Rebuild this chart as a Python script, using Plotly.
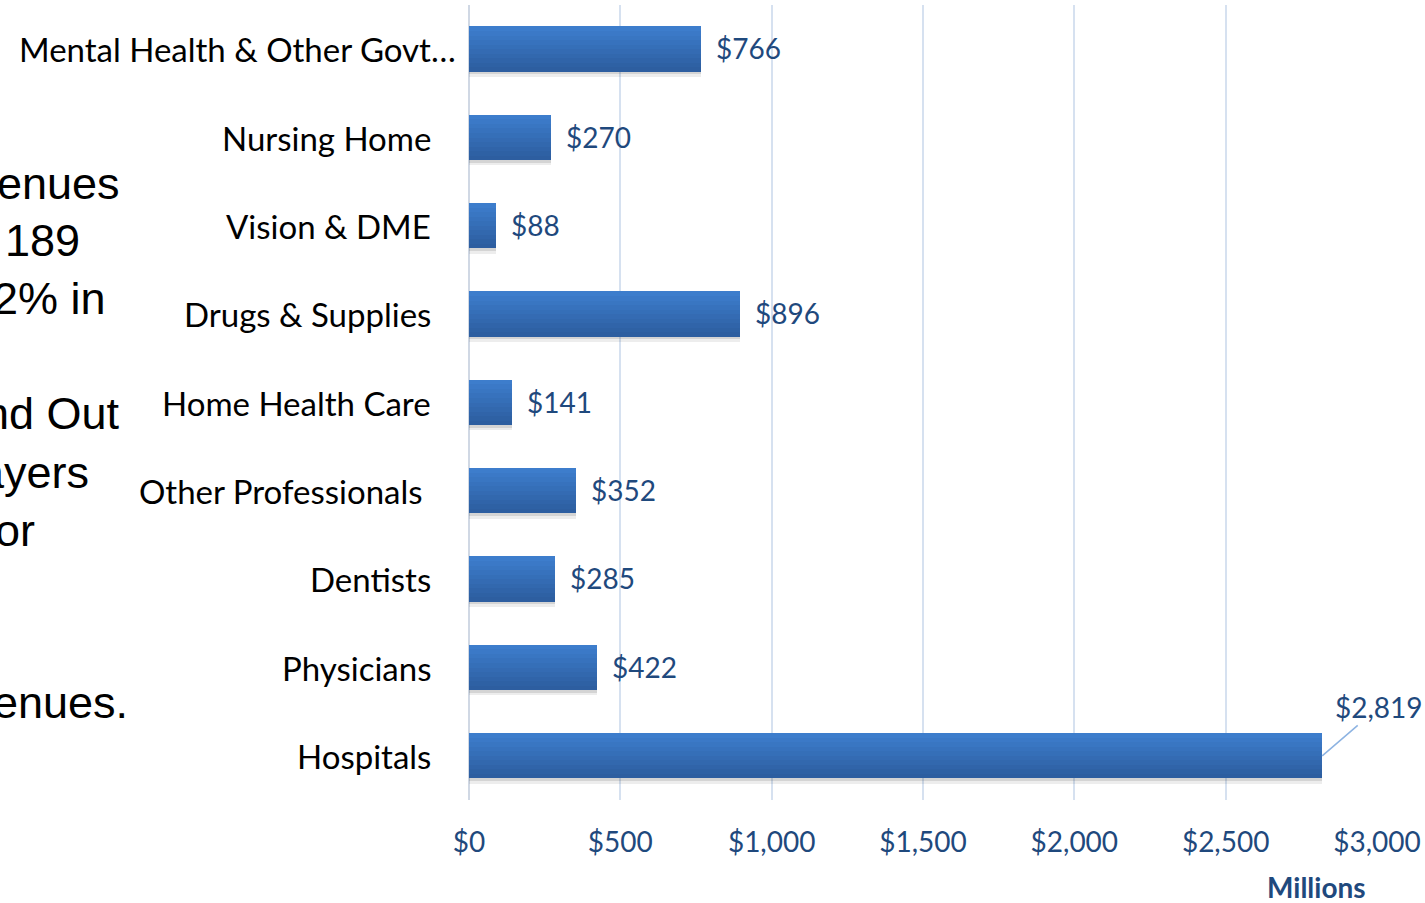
import plotly.graph_objects as go
import numpy as np

# Spending by category, millions of dollars (bottom to top)
categories = ["Hospitals", "Physicians", "Dentists", "Other Professionals",
              "Home Health Care", "Drugs & Supplies", "Vision & DME",
              "Nursing Home", "Mental Health & Other Govt…"]
values = [2819, 422, 285, 352, 141, 896, 88, 270, 766]
value_labels = ["$2,819", "$422", "$285", "$352", "$141", "$896", "$88", "$270", "$766"]
x_ticks = [0, 500, 1000, 1500, 2000, 2500, 3000]

# Slide text fragments visible to the left of the chart
side_lines = ["enues", "189", "2% in", "nd Out", "ayers", "or", "enues."]

W, H = 1425, 903
L, R, T, B = 469, 48, 5, 103
plot_w = W - L - R

bar_w = 0.51
n_bands = 10
top_rgb = np.array([61, 125, 204])
bot_rgb = np.array([45, 94, 160])

fig = go.Figure()

# soft shadow under each bar
for k, a in enumerate([0.10, 0.07]):
    fig.add_trace(go.Bar(
        x=values, y=categories, orientation="h",
        width=bar_w, offset=-bar_w / 2 - 0.03 - 0.03 * k,
        marker=dict(color=f"rgba(0,0,0,{a})", line=dict(width=0)),
        hoverinfo="skip", showlegend=False,
    ))

# vertical gradient built from thin stacked bands
for i in range(n_bands):
    t = i / (n_bands - 1)
    c = bot_rgb + (top_rgb - bot_rgb) * t
    fig.add_trace(go.Bar(
        x=values, y=categories, orientation="h",
        width=bar_w / n_bands + 0.002,
        offset=-bar_w / 2 + i * bar_w / n_bands,
        marker=dict(color=f"rgb({int(c[0])},{int(c[1])},{int(c[2])})", line=dict(width=0)),
        hoverinfo="skip", showlegend=False,
    ))

base_font = "Lato, Carlito, Calibri, sans-serif"
label_font = dict(family=base_font, size=28, color="#1F497D")
cat_font = dict(family=base_font, size=33, color="#000000")

annotations = []
for cat, v, lab in zip(categories, values, value_labels):
    # category name to the left of the axis
    shift = -36
    if cat.startswith("Mental"):
        shift = -11
    elif cat.startswith("Other"):
        shift = -44
    annotations.append(dict(
        x=0, y=cat, xref="x", yref="y", text=cat, showarrow=False,
        xanchor="right", xshift=shift, font=cat_font,
    ))
    # value label at the end of the bar
    if v == max(values):
        annotations.append(dict(
            x=v, y=cat, xref="x", yref="y", text=lab, showarrow=True,
            ax=57, ay=-49, arrowhead=0, arrowwidth=1.5, arrowcolor="#8DB3E2",
            font=label_font, standoff=0,
        ))
    else:
        annotations.append(dict(
            x=v, y=cat, xref="x", yref="y", text=lab, showarrow=False,
            xanchor="left", xshift=13, yshift=1, font=label_font,
        ))

annotations.append(dict(
    x=(1316 - L) / plot_w, y=-(887 - (H - B)) / (H - T - B), xref="paper", yref="paper",
    text="<b>Millions</b>", showarrow=False, xanchor="center", yanchor="middle",
    font=dict(family=base_font, size=28, color="#1F497D"),
))

side_pos = [(122, 184), (82, 240), (108, 298), (122, 413), (91, 472), (37, 530), (130, 702)]
for txt, (px, py) in zip(side_lines, side_pos):
    annotations.append(dict(
        x=(px - L) / plot_w, y=((H - B) - py) / (H - T - B), xref="paper", yref="paper",
        text=txt, showarrow=False, xanchor="right", yanchor="middle",
        font=dict(family="Liberation Sans, Arial, sans-serif", size=45, color="#000000"),
    ))

fig.update_layout(
    width=W, height=H,
    margin=dict(l=L, r=R, t=T, b=B, pad=0),
    paper_bgcolor="white", plot_bgcolor="white",
    barmode="overlay", bargap=0,
    annotations=annotations,
    font=dict(family=base_font),
)
fig.update_xaxes(
    range=[0, 3000], tickvals=x_ticks,
    ticktext=[f"${v:,}" for v in x_ticks],
    showgrid=True, gridcolor="#D6E1F0", gridwidth=1.5,
    zeroline=True, zerolinecolor="#D0D8E4", zerolinewidth=2,
    showline=False, ticks="", ticklabelstandoff=23,
    tickfont=dict(family=base_font, size=28, color="#1F497D"),
)
fig.update_yaxes(
    categoryorder="array", categoryarray=categories,
    showgrid=False, zeroline=False, showline=False, ticks="",
    showticklabels=False,
)

fig.write_html("out.html")
